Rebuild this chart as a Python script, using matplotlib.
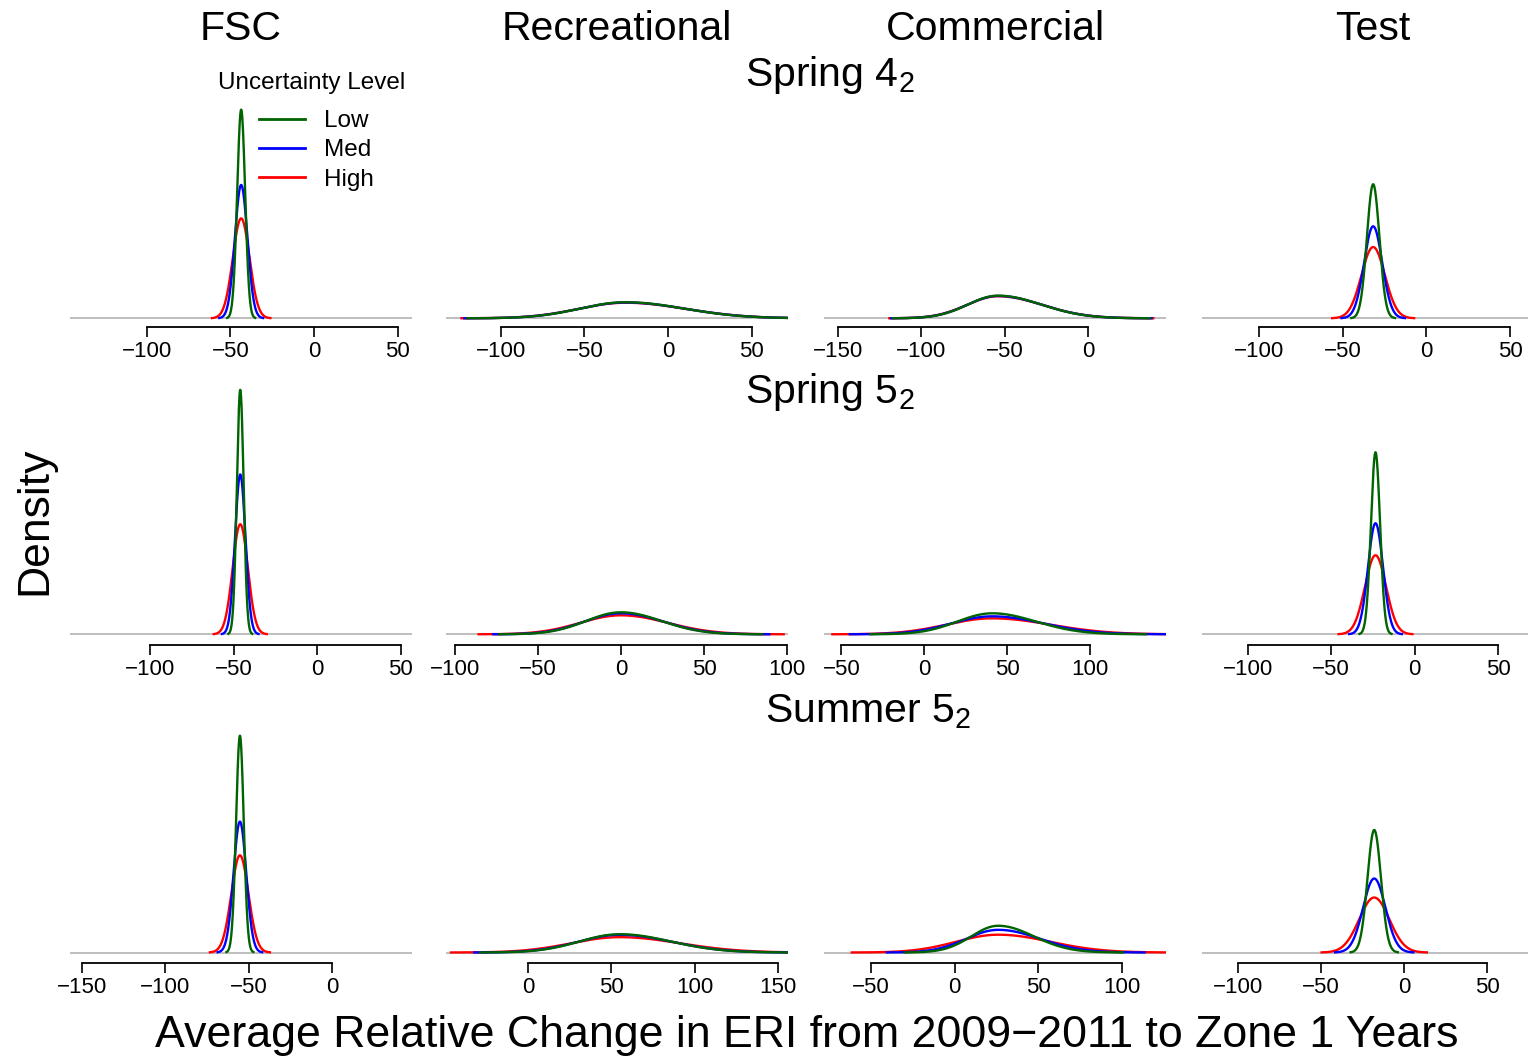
"""Density curves of relative ERI change by sector, scenario and uncertainty level."""

import matplotlib

matplotlib.use("Agg")

import matplotlib.pyplot as plt
import numpy as np

plt.rcParams["font.family"] = ["Liberation Sans", "DejaVu Sans"]
plt.rcParams["mathtext.fontset"] = "custom"
plt.rcParams["mathtext.rm"] = "Liberation Sans"
plt.rcParams["mathtext.it"] = "Liberation Sans:italic"

# Scenarios (rows), sectors (columns) and uncertainty levels (curves).
SCENARIOS = [r"Spring $\mathregular{4_2}$", r"Spring $\mathregular{5_2}$", r"Summer $\mathregular{5_2}$"]
SECTORS = ["FSC", "Recreational", "Commercial", "Test"]
LEVELS = ["Low", "Med", "High"]
LEVEL_COLORS = ["#006400", "#0000FF", "#FF0000"]

# Most likely relative change (%) for each scenario x sector.
PEAK_CHANGE = [
    [-43.6, -25.5, -54.0, -31.8],
    [-46.0, 0.0, 40.8, -23.5],
    [-55.3, 55.0, 26.0, -18.0],
]

# Spread below / above the peak, per uncertainty level (Low, Med, High).
SPREAD_BELOW = [
    [[2.39, 3.74, 4.99], [27.0, 27.5, 28.0], [18.0, 18.3, 18.6], [3.72, 5.42, 7.00]],
    [[2.04, 3.12, 4.53], [21.0, 22.0, 24.5], [21.0, 24.5, 27.5], [2.74, 4.49, 6.31]],
    [[2.30, 3.81, 5.13], [24.0, 25.0, 29.0], [16.0, 19.0, 25.0], [4.07, 6.74, 9.07]],
]
SPREAD_ABOVE = [
    [[2.39, 3.74, 4.99], [35.0, 35.5, 36.0], [26.0, 26.3, 26.6], [3.72, 5.42, 7.00]],
    [[2.04, 3.12, 4.53], [24.3, 25.5, 28.0], [26.5, 31.0, 35.0], [2.74, 4.49, 6.31]],
    [[2.30, 3.81, 5.13], [30.5, 31.3, 36.0], [21.3, 25.0, 31.0], [4.07, 6.74, 9.07]],
]

# Axis ranges and tick marks for every panel.
X_LIMITS = [
    [(-146.0, 58.6), (-132.7, 71.7), (-158.2, 46.7), (-134.1, 70.3)],
    [(-147.9, 56.8), (-105.4, 100.6), (-60.5, 145.6), (-127.3, 77.3)],
    [(-157.0, 47.7), (-49.5, 156.2), (-78.1, 126.3), (-121.9, 84.4)],
]
X_TICKS = [
    [[-100, -50, 0, 50], [-100, -50, 0, 50], [-150, -100, -50, 0], [-100, -50, 0, 50]],
    [[-100, -50, 0, 50], [-100, -50, 0, 50, 100], [-50, 0, 50, 100], [-100, -50, 0, 50]],
    [[-150, -100, -50, 0], [0, 50, 100, 150], [-50, 0, 50, 100], [-100, -50, 0, 50]],
]

# Layout, in pixels of the 1528 x 1059 canvas.
W, H = 1528, 1059
COL_LEFT = [70, 446, 824, 1202]
PANEL_W = 342
PANEL_H = 290
AXIS_Y = [327.0, 645.3, 962.7]
ZERO_Y = [318.3, 634.3, 952.5]
PX_PER_DENSITY = 1250.0
TITLE_POS = [(830, 86), (830, 403), (868, 722)]


def split_normal(x, mode, s_lo, s_hi):
    s = np.where(x < mode, s_lo, s_hi)
    return 2.0 / (np.sqrt(2.0 * np.pi) * (s_lo + s_hi)) * np.exp(-0.5 * ((x - mode) / s) ** 2)


def add_px_axes(fig, left, top, width, height):
    return fig.add_axes([left / W, 1 - (top + height) / H, width / W, height / H])


fig = plt.figure(figsize=(W / 100, H / 100), dpi=100)
legend_handles = None

for r in range(len(SCENARIOS)):
    gap = AXIS_Y[r] - ZERO_Y[r]
    for c in range(len(SECTORS)):
        ax = add_px_axes(fig, COL_LEFT[c], AXIS_Y[r] - PANEL_H, PANEL_W, PANEL_H)
        ax.patch.set_visible(False)
        ax.axhline(0, color="#BEBEBE", lw=1.4, zorder=1)

        lines = []
        for k in (2, 1, 0):
            mode = PEAK_CHANGE[r][c]
            s_lo = SPREAD_BELOW[r][c][k]
            s_hi = SPREAD_ABOVE[r][c][k]
            x = np.linspace(mode - 3.5 * s_lo, mode + 3.5 * s_hi, 600)
            (ln,) = ax.plot(x, split_normal(x, mode, s_lo, s_hi), color=LEVEL_COLORS[k],
                            lw=1.7, zorder=2 + (2 - k))
            lines.append(ln)
        if r == 0 and c == 0:
            legend_handles = lines[::-1]
            legend_ax = ax

        ax.set_xlim(*X_LIMITS[r][c])
        ax.set_ylim(-gap / PX_PER_DENSITY, (PANEL_H - gap) / PX_PER_DENSITY)
        ax.set_xticks(X_TICKS[r][c])
        ax.set_yticks([])
        for side in ("top", "right", "left"):
            ax.spines[side].set_visible(False)
        ax.spines["bottom"].set_bounds(X_TICKS[r][c][0], X_TICKS[r][c][-1])
        ax.spines["bottom"].set_linewidth(1.3)
        ax.tick_params(axis="x", direction="out", length=7.2, width=1.2, pad=3,
                       labelsize=16, colors="black")

# Sector headings, scenario headings and axis titles.
for c, name in enumerate(SECTORS):
    fig.text((COL_LEFT[c] + PANEL_W / 2) / W, 1 - 29 / H, name, ha="center", va="center",
             fontsize=29.5)
for r, name in enumerate(SCENARIOS):
    x_px, y_px = TITLE_POS[r]
    fig.text(x_px / W, 1 - y_px / H, name, ha="center", va="baseline", fontsize=29.5)

fig.text(35 / W, 1 - 521 / H, "Density", rotation=90, ha="center", va="center", fontsize=32)
fig.text(807 / W, 1 - 1036 / H, "Average Relative Change in ERI from 2009\u22122011 to Zone 1 Years",
         ha="center", va="center", fontsize=32.2)

# Legend: title set apart from the entries, as in base-R legends.
fig.text(312 / W, 1 - 83 / H, "Uncertainty Level", ha="center", va="center", fontsize=17.5)
leg = legend_ax.legend(legend_handles, LEVELS, loc="upper left",
                       bbox_to_anchor=(259 / W, 1 - 110 / H), bbox_transform=fig.transFigure,
                       frameon=False, fontsize=17.5, handlelength=1.9,
                       handletextpad=0.78, labelspacing=0.3, borderpad=0, borderaxespad=0)
for handle in leg.get_lines():
    handle.set_linewidth(2.0)

fig.savefig("out.png", dpi=100)
